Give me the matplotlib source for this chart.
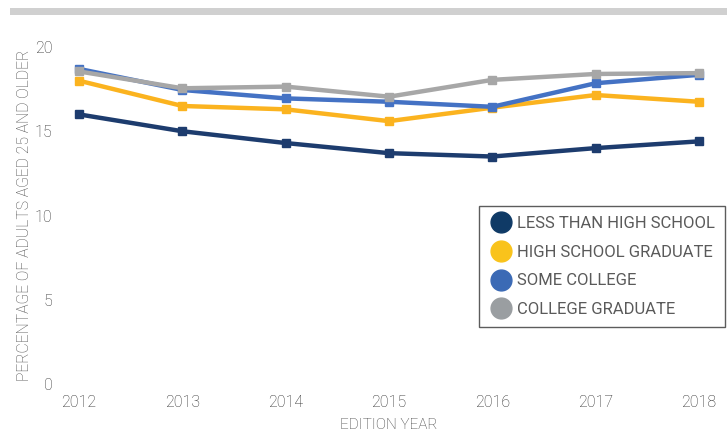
import matplotlib.pyplot as plt
from matplotlib.patches import Rectangle

years = [2012, 2013, 2014, 2015, 2016, 2017, 2018]
less_than_hs = [16.0, 15.0, 14.3, 13.7, 13.5, 14.0, 14.4]
hs_graduate = [18.0, 16.5, 16.3, 15.6, 16.4, 17.15, 16.75]
some_college = [18.7, 17.45, 16.95, 16.75, 16.45, 17.85, 18.35]
college_grad = [18.55, 17.55, 17.65, 17.05, 18.05, 18.4, 18.45]

labels = ["LESS THAN HIGH SCHOOL", "HIGH SCHOOL GRADUATE", "SOME COLLEGE", "COLLEGE GRADUATE"]
line_colors = ["#1d3c6e", "#fbb31f", "#4472c4", "#a7a7a7"]
dot_colors = ["#0f3a66", "#f9c31b", "#3b6ab5", "#9a9ea1"]

plt.rcParams['font.family'] = ['Roboto', 'DejaVu Sans']

fig = plt.figure(figsize=(7.27, 4.34), dpi=100)
ax = fig.add_axes([79/727, 50/434, 620/727, 337/434])

series = [less_than_hs, hs_graduate, some_college, college_grad]
# draw in back-to-front order like the original
for i in [1, 2, 3, 0]:
    ax.plot(years, series[i], color=line_colors[i], lw=3.2, marker='s', ms=5.5,
            clip_on=False, zorder=3)

ax.set_xlim(2012, 2018)
ax.set_ylim(0, 20)
ax.set_xticks(years)
ax.set_yticks([0, 5, 10, 15, 20])
for s in ax.spines.values():
    s.set_visible(False)
ax.tick_params(length=0, labelsize=11.5, colors="#2e2e2e")
ax.tick_params(axis='x', pad=8)
ax.tick_params(axis='y', pad=19)
for lab in ax.get_xticklabels() + ax.get_yticklabels():
    lab.set_fontweight('light')
ax.set_xlabel("EDITION YEAR", fontsize=11, color="#3a3a3a", labelpad=6, fontweight='light')
ax.set_ylabel("PERCENTAGE OF ADULTS AGED 25 AND OLDER", fontsize=11.3, color="#4a4a4a",
              labelpad=2, fontweight='light')

# legend with round dots
handles = [plt.Line2D([], [], ls='none', marker='o', ms=15, color=c) for c in dot_colors]
leg = fig.legend(handles, labels, loc='upper right', bbox_to_anchor=(725/727, 228/434),
                 frameon=True, fancybox=False, fontsize=12, handletextpad=0.2,
                 labelspacing=0.82, borderpad=0.6, handlelength=1.5, borderaxespad=0)
leg.get_frame().set_edgecolor("#333333")
leg.get_frame().set_linewidth(1.0)
for t in leg.get_texts():
    t.set_color("#5a5a5a")

# gray band across the top
fig.patches.append(Rectangle((10/727, 419/434), 717/727, 7/434, transform=fig.transFigure,
                             color="#d0d0d0", lw=0))

fig.savefig("out.png", dpi=100)
